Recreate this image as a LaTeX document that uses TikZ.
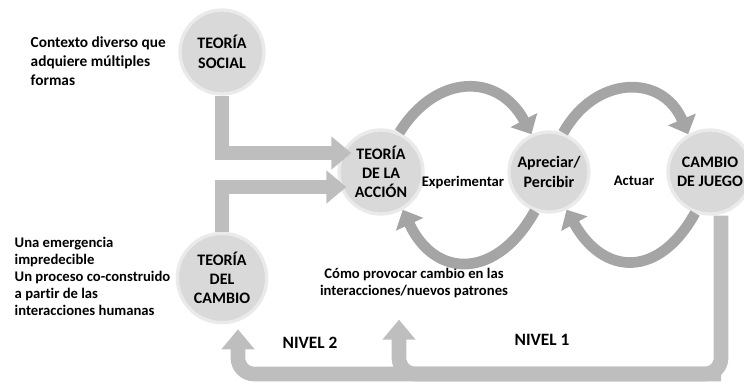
\documentclass[tikz,border=0pt]{standalone}
\usepackage{fontspec}
\setmainfont{Carlito}[Ligatures=NoCommon]
\usetikzlibrary{arrows.meta, calc, positioning}
\definecolor{circfill}{RGB}{217,217,217}
\definecolor{bandgray}{RGB}{190,190,190}
\definecolor{loopgray}{RGB}{165,165,165}

\begin{document}
\begin{tikzpicture}[x=0.75pt, y=0.75pt,
    theory/.style={circle, fill=circfill, draw=circfill!55, line width=2.5pt, minimum size=63pt, inner sep=0pt, align=center, font=\fontsize{12}{14.5}\selectfont\bfseries},
    note/.style={align=left, anchor=west, font=\fontsize{11}{12.75}\selectfont\bfseries},
    label/.style={font=\fontsize{11}{13}\selectfont\bfseries},
    level/.style={font=\fontsize{13}{15}\selectfont\bfseries},
    band/.style={draw=bandgray, line width=11pt, -{Triangle[width=24pt, length=15pt]}},
    cycle/.style={draw=loopgray, line width=8pt, -{Triangle[width=22pt, length=12pt]}, looseness=1.35}
]
\useasboundingbox (0,0) rectangle (744,-384);

\node[theory] (social) at (222,-52) {TEORÍA\\SOCIAL};
\node[theory] (accion) at (381,-172) {TEORÍA\\DE LA\\ACCIÓN};
\node[theory, minimum size=60pt] (apreciar) at (549,-172) {Apreciar/\\Percibir};
\node[theory] (juego) at (710,-172) {CAMBIO\\DE JUEGO};
\node[theory, minimum size=67pt] (cambioteo) at (222,-278) {TEORÍA\\DEL\\CAMBIO};

\node[note, font=\fontsize{11.5}{14.25}\selectfont\bfseries] (contexto) at (26,-61) {Contexto diverso que\\adquiere múltiples\\formas};
\node[note] (emergencia) at (10,-276) {Una emergencia\\impredecible\\Un proceso co-construido\\a partir de las\\interacciones humanas};
\node[label] (experimentar) at (463,-183) {Experimentar};
\node[label] (actuar) at (634,-181) {Actuar};
\node[label, align=center] (como) at (414,-283) {Cómo provocar cambio en las\\interacciones/nuevos patrones};
\node[level] (nivel2) at (310,-343) {NIVEL 2};
\node[level] (nivel1) at (542,-340) {NIVEL 1};

\draw[band] (social.south) |- ($(accion.west)+(14,19)$);
\draw[band] (cambioteo.north) |- ($(accion.west)+(9,-15)$);

\coordinate (corner) at (721,-374);
\draw[band, rounded corners=12pt] (juego.south -| corner) -- (corner) -| ($(cambioteo.south)+(16,-5)$);
\draw[band, rounded corners=12pt] (corner) -| ($(como.south)+(-15,-17)$);

\draw[cycle] (accion.65) to[out=58, in=118] (apreciar.115);
\draw[cycle, looseness=1.5] (apreciar.250) to[out=-119, in=-65] (accion.300);
\draw[cycle] (apreciar.70) to[out=61, in=113] (juego.120);
\draw[cycle, looseness=1.5] (juego.250) to[out=-119, in=-61] (apreciar.295);
\end{tikzpicture}
\end{document}
